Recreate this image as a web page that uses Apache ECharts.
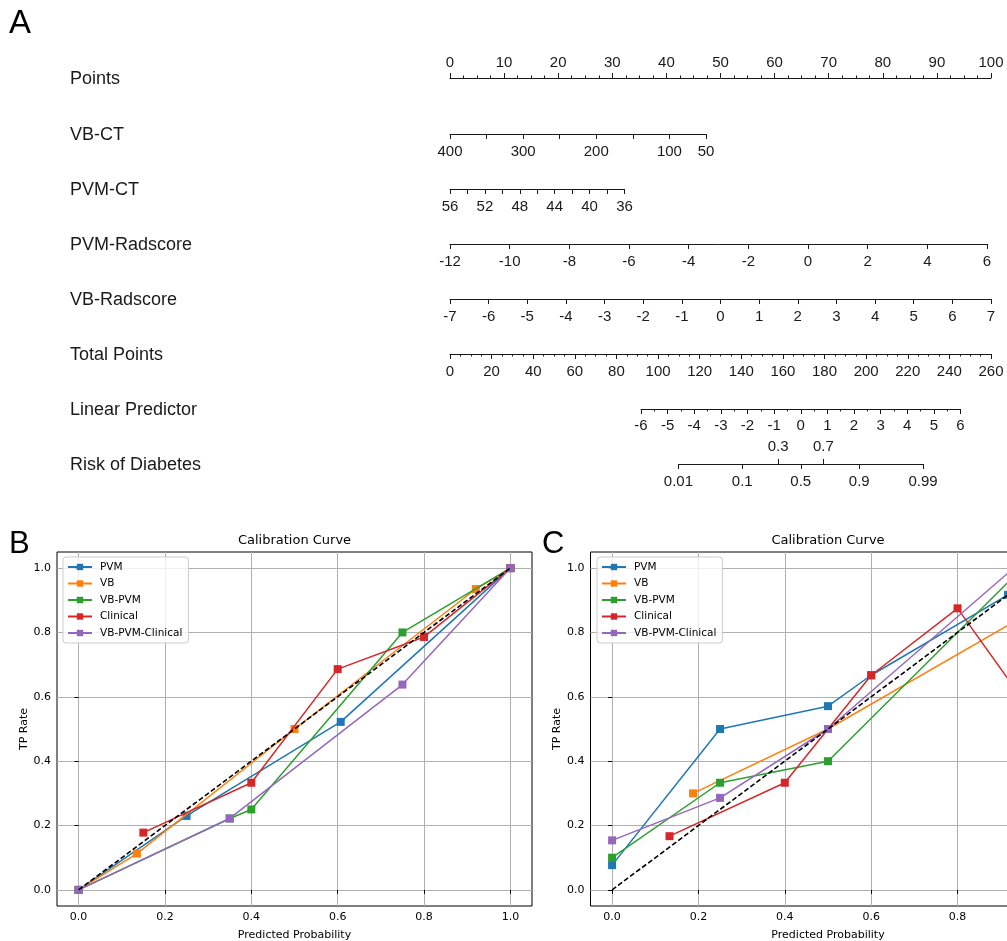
<!DOCTYPE html>
<html>
<head>
<meta charset="utf-8">
<script src="https://cdn.jsdelivr.net/npm/echarts@6/dist/echarts.min.js"></script>
<style>
  html, body { margin: 0; padding: 0; background: #fff; }
  #chart { width: 1007px; height: 941px; }
</style>
</head>
<body>
<div id="chart"></div>
<script>
// ---------- Nomogram scales ----------
const rowNames = ['Points', 'VB-CT', 'PVM-CT', 'PVM-Radscore', 'VB-Radscore',
                  'Total Points', 'Linear Predictor', 'Risk of Diabetes'];
const pointsLabels = [0, 10, 20, 30, 40, 50, 60, 70, 80, 90, 100];
const vbctLabels = [400, 300, 200, 100, 50];
const pvmctLabels = [56, 52, 48, 44, 40, 36];
const pvmRadLabels = [-12, -10, -8, -6, -4, -2, 0, 2, 4, 6];
const vbRadLabels = [-7, -6, -5, -4, -3, -2, -1, 0, 1, 2, 3, 4, 5, 6, 7];
const totalLabels = [0, 20, 40, 60, 80, 100, 120, 140, 160, 180, 200, 220, 240, 260];
const lpLabels = [-6, -5, -4, -3, -2, -1, 0, 1, 2, 3, 4, 5, 6];
const riskBelow = [0.01, 0.1, 0.5, 0.9, 0.99];
const riskAbove = [0.3, 0.7];

// ---------- Calibration curves ----------
const seriesNames = ['PVM', 'VB', 'VB-PVM', 'Clinical', 'VB-PVM-Clinical'];
const seriesColors = ['#1f77b4', '#ff7f0e', '#2ca02c', '#d62728', '#9467bd'];
const calibTicks = [0, 0.2, 0.4, 0.6, 0.8, 1.0];
const diagonal = [[0, 0], [1, 1]];

// Training cohort (panel B)
const trainPVM = [[0, 0], [0.25, 0.23], [0.607, 0.522], [1, 1]];
const trainVB = [[0, 0], [0.135, 0.113], [0.5, 0.5], [0.92, 0.935], [1, 1]];
const trainVBPVM = [[0, 0], [0.35, 0.222], [0.4, 0.25], [0.75, 0.8], [1, 1]];
const trainClinical = [[0.15, 0.178], [0.4, 0.333], [0.6, 0.686], [0.8, 0.786], [1, 1]];
const trainAll = [[0, 0], [0.35, 0.222], [0.75, 0.638], [1, 1]];

// Validation cohort (panel C)
const testPVM = [[0, 0.077], [0.25, 0.5], [0.5, 0.571], [0.6, 0.667], [0.917, 0.917]];
const testVB = [[0.1875, 0.3], [0.5, 0.5], [0.95, 0.848]];
const testVBPVM = [[0, 0.1], [0.25, 0.333], [0.5, 0.4], [0.95, 1.0]];
const testClinical = [[0.133, 0.167], [0.4, 0.333], [0.5, 0.5], [0.6, 0.667], [0.8, 0.875], [1.0, 0.5]];
const testAll = [[0, 0.154], [0.25, 0.286], [0.5, 0.5], [0.93, 1.0]];

const trainSets = [trainPVM, trainVB, trainVBPVM, trainClinical, trainAll];
const testSets = [testPVM, testVB, testVBPVM, testClinical, testAll];

// ---------- Helpers ----------
const logit = p => Math.log(p / (1 - p));
const INK = '#1a1a1a';
const NOMO_FONT = 'Liberation Sans, Arial, sans-serif';
const MPL_FONT = 'DejaVu Sans, sans-serif';

const grids = [], xAxes = [], yAxes = [], series = [], graphics = [];

// pixel placement of each nomogram row
const rowY = [78, 134, 189, 244, 299, 354, 409, 464];
const lpLeft = 641, lpRight = 960.5;

function nomoRow(row, left, right, xa) {
  const gi = grids.length;
  grids.push({ left: left, top: rowY[row], width: right - left, height: 0, show: false,
               outerBoundsMode: 'none', containLabel: false });
  yAxes.push({ gridIndex: gi, type: 'value', show: false });
  const axes = Array.isArray(xa) ? xa : [xa];
  axes.forEach(a => {
    xAxes.push(Object.assign({
      gridIndex: gi,
      type: 'value',
      position: 'bottom',
      axisLine: { show: true, onZero: false, lineStyle: { color: INK, width: 1 } },
      splitLine: { show: false }
    }, a, {
      axisLabel: Object.assign({
        margin: 10, fontSize: 15, color: INK, fontFamily: NOMO_FONT,
        showMinLabel: true, showMaxLabel: true
      }, a.axisLabel || {}),
      axisTick: Object.assign({ show: true, length: 5, lineStyle: { color: INK, width: 1 } }, a.axisTick || {})
    }));
  });
  graphics.push({
    type: 'text', left: 70, top: rowY[row] - 8,
    style: { text: rowNames[row], fontSize: 18, fontFamily: NOMO_FONT, fill: INK }
  });
}

// Points
nomoRow(0, 450, 991, {
  position: 'top', min: pointsLabels[0], max: pointsLabels[pointsLabels.length - 1], interval: 10,
  minorTick: { show: true, splitNumber: 4, length: 2.5, lineStyle: { color: INK } },
  axisLabel: { margin: 8 }
});
// VB-CT
nomoRow(1, 450, 706, {
  min: 50, max: 400, interval: 50, inverse: true,
  axisLabel: { customValues: vbctLabels }
});
// PVM-CT
nomoRow(2, 450, 624.5, {
  min: 36, max: 56, interval: 2, inverse: true,
  axisLabel: { customValues: pvmctLabels }
});
// PVM-Radscore
nomoRow(3, 450, 987, {
  min: -12, max: 6, interval: 2,
  axisLabel: { customValues: pvmRadLabels }
});
// VB-Radscore
nomoRow(4, 450, 991, {
  min: -7, max: 7, interval: 1,
  axisLabel: { customValues: vbRadLabels }
});
// Total Points
nomoRow(5, 450, 991, {
  min: 0, max: 260, interval: 20,
  minorTick: { show: true, splitNumber: 4, length: 2.5, lineStyle: { color: INK } },
  axisLabel: { customValues: totalLabels }
});
// Linear Predictor
nomoRow(6, lpLeft, lpRight, {
  min: -6, max: 6, interval: 1,
  minorTick: { show: true, splitNumber: 2, length: 2.5, lineStyle: { color: INK } },
  axisLabel: { customValues: lpLabels, margin: 9 }
});
// Risk of Diabetes: logit scale aligned with the linear predictor
const rMin = logit(riskBelow[0]), rMax = logit(riskBelow[riskBelow.length - 1]);
const lpPx = v => lpLeft + (v - (-6)) / 12 * (lpRight - lpLeft);
const riskFmt = v => String(+(1 / (1 + Math.exp(-v))).toFixed(2));
nomoRow(7, lpPx(rMin), lpPx(rMax), [
  {
    min: rMin, max: rMax,
    axisTick: { customValues: riskBelow.map(logit) },
    axisLabel: { customValues: riskBelow.map(logit), formatter: riskFmt }
  },
  {
    position: 'top', min: rMin, max: rMax,
    axisLine: { show: false },
    axisTick: { customValues: riskAbove.map(logit) },
    axisLabel: { customValues: riskAbove.map(logit), formatter: riskFmt }
  }
]);

graphics.push({ type: 'text', left: 9, top: 7, style: { text: 'A', fontSize: 33, fontFamily: NOMO_FONT, fill: '#000' } });

// ---------- Calibration panels ----------
function calibPanel(left, letter, letterX, sets) {
  const gi = grids.length;
  const top = 552, width = 475, height = 354;
  grids.push({ left: left, top: top, width: width, height: height, show: true,
               borderColor: '#000', borderWidth: 1, backgroundColor: 'transparent',
               outerBoundsMode: 'none', containLabel: false });
  const tickFmt = v => v.toFixed(1);
  const xi = xAxes.length, yi = yAxes.length;
  xAxes.push({
    gridIndex: gi, type: 'value', min: -0.05, max: 1.05,
    name: 'Predicted Probability', nameLocation: 'middle', nameGap: 24,
    nameTextStyle: { fontSize: 11, fontFamily: MPL_FONT, color: '#000' },
    axisLine: { show: false },
    axisTick: { show: true, length: 4, customValues: calibTicks, lineStyle: { color: '#000' } },
    axisLabel: { customValues: calibTicks, formatter: tickFmt, margin: 6,
                 fontSize: 11, fontFamily: MPL_FONT, color: '#000' },
    splitLine: { show: true, lineStyle: { color: '#b0b0b0', width: 1 } }
  });
  yAxes.push({
    gridIndex: gi, type: 'value', min: -0.05, max: 1.05,
    name: 'TP Rate', nameLocation: 'middle', nameGap: 27, nameRotate: 90,
    nameTextStyle: { fontSize: 11, fontFamily: MPL_FONT, color: '#000' },
    axisLine: { show: false },
    axisTick: { show: true, length: 4, customValues: calibTicks, lineStyle: { color: '#000' } },
    axisLabel: { customValues: calibTicks, formatter: tickFmt, margin: 6,
                 fontSize: 11, fontFamily: MPL_FONT, color: '#000' },
    splitLine: { show: true, lineStyle: { color: '#b0b0b0', width: 1 } }
  });
  sets.forEach((d, k) => {
    series.push({
      type: 'line', name: seriesNames[k], xAxisIndex: xi, yAxisIndex: yi,
      data: d, symbol: 'rect', symbolSize: 8, showSymbol: true,
      color: seriesColors[k],
      lineStyle: { width: 1.5, color: seriesColors[k] },
      itemStyle: { color: seriesColors[k] },
      z: 3 + k, animation: false, emphasis: { disabled: true }
    });
  });
  series.push({
    type: 'line', name: 'diag', xAxisIndex: xi, yAxisIndex: yi, data: diagonal,
    symbol: 'none', lineStyle: { color: '#000', width: 1.6, type: [5, 2.5] },
    z: 10, animation: false, silent: true
  });
  graphics.push({ type: 'text', x: left + width / 2, y: 541,
    style: { text: 'Calibration Curve', fontSize: 13, fontFamily: MPL_FONT, fill: '#000',
             textAlign: 'center', textVerticalAlign: 'middle' } });
  graphics.push({ type: 'text', left: letterX, top: 529,
    style: { text: letter, fontSize: 31, fontFamily: NOMO_FONT, fill: '#000' } });
}

calibPanel(57, 'B', 9, trainSets);
calibPanel(590.5, 'C', 542, testSets);

const legendBase = {
  orient: 'vertical', top: 557, data: seriesNames,
  itemWidth: 24, itemHeight: 8, itemGap: 4.5,
  padding: [4, 6, 4, 4],
  borderColor: '#cccccc', borderWidth: 1, borderRadius: 3,
  backgroundColor: 'rgba(255,255,255,0.8)',
  textStyle: { fontSize: 10.5, fontFamily: MPL_FONT, color: '#000', lineHeight: 12,
               padding: [0, 0, 0, 3] },
  selectedMode: false
};

const chart = echarts.init(document.getElementById('chart'), null, { renderer: 'canvas' });
chart.setOption({
  backgroundColor: '#fff',
  animation: false,
  grid: grids,
  xAxis: xAxes,
  yAxis: yAxes,
  series: series,
  legend: [
    Object.assign({}, legendBase, { left: 63 }),
    Object.assign({}, legendBase, { left: 597 })
  ],
  graphic: graphics
});
</script>
</body>
</html>
